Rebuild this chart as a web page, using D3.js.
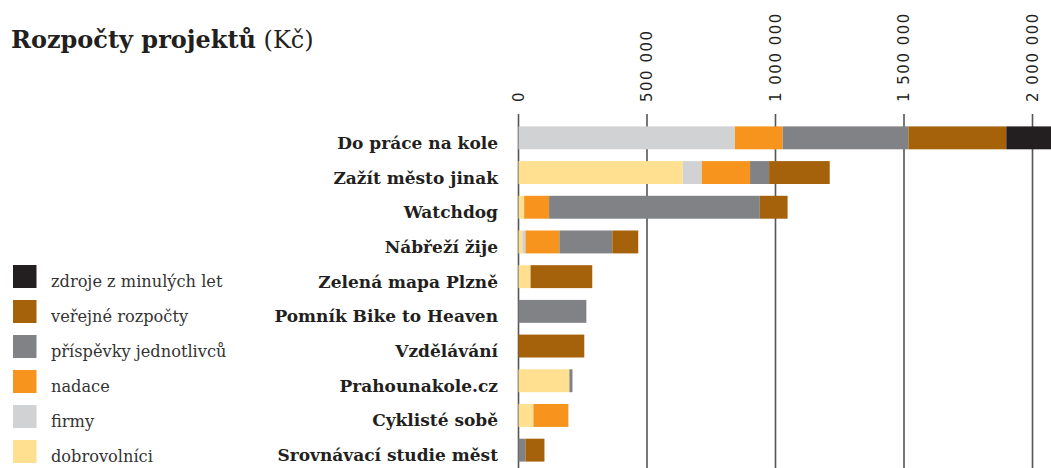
<!DOCTYPE html>
<html>
<head>
<meta charset="utf-8">
<script src="https://cdn.jsdelivr.net/npm/d3@7"></script>
<style>
  body { margin: 0; background: #fff; }
  svg { display: block; }
</style>
</head>
<body>
<svg id="chart" width="1051" height="468"></svg>
<script>
// projects, top to bottom
let projects = ['Do práce na kole', 'Zažít město jinak', 'Watchdog', 'Nábřeží žije',
	'Zelená mapa Plzně', 'Pomník Bike to Heaven', 'Vzdělávání', 'Prahounakole.cz',
	'Cyklisté sobě', 'Srovnávací studie měst'];

// funding sources (Kč), same order as projects
let dobrovolnici = [0, 639000, 22000, 15000, 47000, 0, 0, 198000, 58000, 0];
let firmy        = [842000, 74000, 0, 12000, 0, 0, 0, 0, 0, 0];
let nadace       = [186000, 188000, 97000, 132000, 0, 0, 0, 0, 136000, 0];
let prispevky    = [489000, 74000, 820000, 206000, 0, 264000, 0, 12000, 0, 27000];
let verejne      = [381000, 236000, 108000, 101000, 240000, 0, 256000, 0, 0, 74000];
let zdroje       = [250000, 0, 0, 0, 0, 0, 0, 0, 0, 0];

let sourceKeys   = ['dobrovolnici', 'firmy', 'nadace', 'prispevky', 'verejne', 'zdroje'];
let sourceNames  = ['dobrovolníci', 'firmy', 'nadace', 'příspěvky jednotlivců', 'veřejné rozpočty', 'zdroje z minulých let'];
let sourceColors = ['#fee090', '#d1d2d4', '#f7941e', '#808285', '#a6620a', '#231f20'];

let tickValues = [0, 500000, 1000000, 1500000, 2000000];

let svg = d3.select('#chart');

let rows = projects.map(function(p, i) {
	return {
		project: p,
		dobrovolnici: dobrovolnici[i],
		firmy: firmy[i],
		nadace: nadace[i],
		prispevky: prispevky[i],
		verejne: verejne[i],
		zdroje: zdroje[i]
	};
});

let x = d3.scaleLinear().domain([0, 2000000]).range([518.5, 1032.5]);
let y = d3.scaleBand().domain(projects).range([120.5, 467.5]).paddingInner(0.34).paddingOuter(0.17);
let color = d3.scaleOrdinal().domain(sourceKeys).range(sourceColors);

let fmt = d3.formatLocale({decimal: ',', thousands: ' ', grouping: [3], currency: ['', ' Kč']}).format(',d');

// title
let title = svg.append('text')
	.attr('x', 11)
	.attr('y', 48)
	.style('font-family', '"DejaVu Serif", serif')
	.style('font-size', '24px')
	.style('fill', '#231f20');
title.append('tspan').style('font-weight', 'bold').text('Rozpočty projektů');
title.append('tspan').text(' (Kč)');

// gridlines + ticks
let grid = svg.append('g').attr('class', 'grid');
grid.selectAll('line')
	.data(tickValues)
	.enter().append('line')
	.attr('x1', function(d) { return x(d); })
	.attr('x2', function(d) { return x(d); })
	.attr('y1', 114)
	.attr('y2', 468)
	.style('stroke', '#555')
	.style('stroke-width', 1.6);

grid.selectAll('text')
	.data(tickValues)
	.enter().append('text')
	.attr('transform', function(d) { return 'translate(' + (x(d) + 5) + ',102) rotate(-90)'; })
	.style('font-family', '"DejaVu Sans", sans-serif')
	.style('font-size', '15px')
	.style('letter-spacing', '1.5px')
	.style('fill', '#231f20')
	.text(function(d) { return fmt(d); });

// bars
let series = d3.stack().keys(sourceKeys)(rows);

svg.append('g')
	.selectAll('g')
	.data(series)
	.enter().append('g')
	.style('fill', function(d) { return color(d.key); })
	.selectAll('rect')
	.data(function(d) { return d; })
	.enter().append('rect')
	.attr('x', function(d) { return x(d[0]); })
	.attr('width', function(d) { return x(d[1]) - x(d[0]); })
	.attr('y', function(d) { return y(d.data.project); })
	.attr('height', y.bandwidth());

// project labels (sit a little below the bar centre, as in the original)
svg.append('g')
	.selectAll('text')
	.data(projects)
	.enter().append('text')
	.attr('x', 498)
	.attr('y', function(d) { return y(d) + y.bandwidth() / 2 + 11; })
	.style('text-anchor', 'end')
	.style('font-family', '"DejaVu Serif", serif')
	.style('font-weight', 'bold')
	.style('font-size', '17px')
	.style('fill', '#231f20')
	.text(function(d) { return d; });

// legend, top item = last stacked key
let legendItems = sourceKeys.slice().reverse();
let legend = svg.append('g')
	.selectAll('g')
	.data(legendItems)
	.enter().append('g')
	.attr('transform', function(d, i) { return 'translate(13,' + (265 + i * 35) + ')'; });

legend.append('rect')
	.attr('width', 23.5)
	.attr('height', 23)
	.style('fill', function(d) { return color(d); });

legend.append('text')
	.attr('x', 38)
	.attr('y', 22)
	.style('font-family', '"DejaVu Serif", serif')
	.style('font-size', '16.2px')
	.style('fill', '#333')
	.text(function(d) { return sourceNames[sourceKeys.indexOf(d)]; });
</script>
</body>
</html>
